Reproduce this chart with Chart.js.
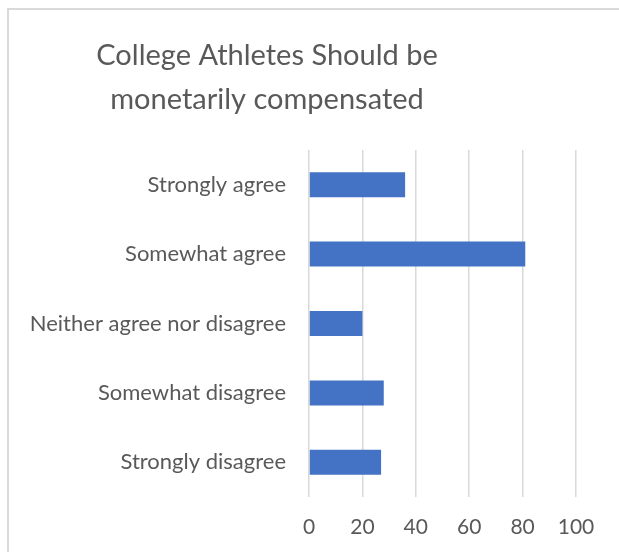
<!DOCTYPE html>
<html>
<head>
<meta charset="utf-8">
<script src="https://cdn.jsdelivr.net/npm/chart.js@4"></script>
<style>
  html, body { margin: 0; padding: 0; background: #ffffff; }
  #wrap { position: relative; width: 619px; height: 552px; overflow: hidden; }
  #frame {
    position: absolute; left: 7px; top: 8px; width: 700px; height: 700px;
    border-left: 2px solid #d9d9d9; border-top: 2px solid #d9d9d9;
  }
  #chart { position: absolute; left: 0; top: 0; }
</style>
</head>
<body>
<div id="wrap">
  <div id="frame"></div>
  <canvas id="chart" width="619" height="552"></canvas>
</div>
<script>
// Chart data
const titleLines = ["College Athletes Should be", "monetarily compensated"];
const categories = ["Strongly agree", "Somewhat agree", "Neither agree nor disagree", "Somewhat disagree", "Strongly disagree"];
const responses = [36, 81, 20, 28, 27];
const xTicks = [0, 20, 40, 60, 80, 100];

const textColor = "#595959";
const fontFamily = "Lato, 'Open Sans', sans-serif";

// Excel centres the title over the whole chart box, which is wider than the visible crop
const titleShift = {
    id: "titleShift",
    afterLayout(chart) {
        const t = chart.titleBlock;
        if (t) {
            t.left = 0;
            t.right = 534;
            t.width = 534;
        }
    },
};

const ctx = document.getElementById("chart").getContext("2d");
new Chart(ctx, {
    type: "bar",
    data: {
        labels: categories,
        datasets: [
            {
                data: responses,
                backgroundColor: "#4472C4",
                borderWidth: 0,
                categoryPercentage: 0.5,
                barPercentage: 0.72,
            },
        ],
    },
    options: {
        indexAxis: "y",
        responsive: false,
        animation: false,
        layout: {
            padding: { top: 0, left: 0, right: 43, bottom: 0 },
        },
        plugins: {
            legend: { display: false },
            tooltip: { enabled: false },
            title: {
                display: true,
                text: titleLines,
                color: textColor,
                font: { family: fontFamily, size: 29, weight: "normal", lineHeight: 1.517 },
                padding: { top: 34, bottom: 28 },
            },
        },
        scales: {
            x: {
                min: 0,
                max: 100,
                afterBuildTicks(scale) {
                    scale.ticks = xTicks.map(v => ({ value: v }));
                },
                afterFit(scale) {
                    scale.height = 55;
                },
                grid: {
                    color: "#d9d9d9",
                    lineWidth: 1.5,
                    drawTicks: false,
                },
                border: { display: false },
                ticks: {
                    color: textColor,
                    padding: 18,
                    font: { family: fontFamily, size: 21 },
                },
            },
            y: {
                afterFit(scale) {
                    scale.width = 309;
                },
                grid: { display: false, drawTicks: false },
                border: { display: false },
                ticks: {
                    color: textColor,
                    padding: 23,
                    font: { family: fontFamily, size: 22 },
                },
            },
        },
    },
    plugins: [titleShift],
});
</script>
</body>
</html>
